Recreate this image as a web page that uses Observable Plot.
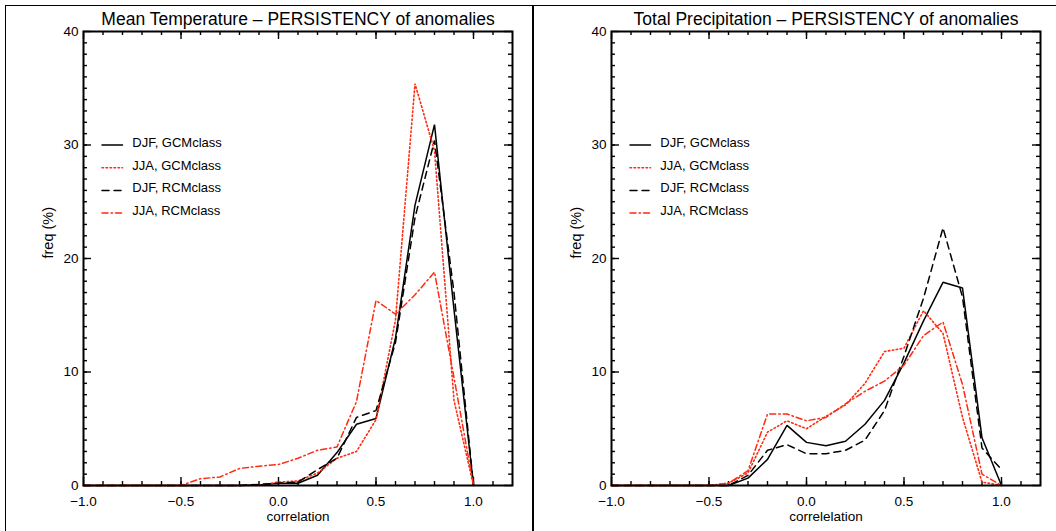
<!DOCTYPE html>
<html><head><meta charset="utf-8">
<script src="https://cdn.jsdelivr.net/npm/d3@7"></script>
<script src="https://cdn.jsdelivr.net/npm/@observablehq/plot@0.6"></script>
<style>
html,body{margin:0;padding:0;background:#fff;}
#wrap{position:relative;width:1056px;height:531px;overflow:hidden;background:#fff;}
.panel{position:absolute;top:0;}
.bline{position:absolute;background:#000;}
</style></head><body>
<div id="wrap"></div>
<script>
// ---- data ----
const correlation = [-1.0,-0.9,-0.8,-0.7,-0.6,-0.5,-0.4,-0.3,-0.2,-0.1,0.0,0.1,0.2,0.3,0.4,0.5,0.6,0.7,0.8,0.9,1.0];

const tempDJF_GCM = [0,0,0,0,0,0,0,0,0,0.05,0.2,0.2,0.9,2.9,5.4,5.9,13.0,24.7,31.8,15.5,0];
const tempJJA_GCM = [0,0,0,0,0,0,0,0,0,0.0,0.3,0.4,1.1,2.4,3.0,5.8,14.6,35.4,29.5,7.5,0];
const tempDJF_RCM = [0,0,0,0,0,0,0,0,0,0.1,0.2,0.3,1.4,2.4,6.0,6.6,12.6,23.6,30.4,17.0,0];
const tempJJA_RCM = [0,0,0,0,0,0,0.6,0.75,1.5,1.7,1.85,2.4,3.1,3.4,7.4,16.3,15.1,16.8,18.8,9.5,0];

const precDJF_GCM = [0,0,0,0,0,0,0,0.65,2.3,5.3,3.8,3.5,3.9,5.4,7.5,10.8,14.5,17.9,17.4,4.2,0];
const precJJA_GCM = [0,0,0,0,0,0,0.2,1.1,4.7,5.7,5.0,6.1,7.1,9.0,11.8,12.1,15.4,13.4,6.0,0.3,0];
const precDJF_RCM = [0,0,0,0,0,0,0,0.9,3.1,3.6,2.8,2.8,3.1,4.0,6.6,11.4,16.5,22.7,16.6,3.3,1.4];
const precJJA_RCM = [0,0,0,0,0,0,0.2,1.3,6.3,6.3,5.7,6.0,7.2,8.3,9.2,10.6,13.2,14.4,8.9,1.0,0];

const xTicks = [-1.0,-0.5,0.0,0.5,1.0];
const yTicks = [0,10,20,30,40];
const legendLabels = ["DJF, GCMclass","JJA, GCMclass","DJF, RCMclass","JJA, RCMclass"];
const titles = ["Mean Temperature – PERSISTENCY of anomalies","Total Precipitation – PERSISTENCY of anomalies"];
const xLabels = ["correlation","correlelation"];
const yLabel = "freq (%)";

// ---- layout / style ----
const W = 528, H = 531, mL = 83, mR = 16, mT = 31, mB = 46;
const FONT = "'Liberation Sans', Arial, sans-serif";
const RED = "#ff2a10";
const styles = [
  {stroke: "black", dash: null, sw: 1.5},
  {stroke: RED, dash: "1.5,2.5", sw: 1.6},
  {stroke: "black", dash: "7,5", sw: 1.5},
  {stroke: RED, dash: "6,3,1.5,3", sw: 1.5}
];

function panel(title, xlabel, seriesValues) {
  const xDomain = [-1, 1.2], yDomain = [0, 40];
  const innerW = W - mL - mR, innerH = H - mT - mB;
  const ux = px => px * (xDomain[1] - xDomain[0]) / innerW;
  const uy = px => px * (yDomain[1] - yDomain[0]) / innerH;
  const xMinor = d3.range(1, 22).map(i => -1 + i * 0.1).map(v => +v.toFixed(2));
  const yMinor = d3.range(1, 40);
  const marks = [];
  // ticks (inward, all four sides)
  const tk = (vals, len) => [
    Plot.ruleX(vals, {x: d => d, y1: yDomain[0], y2: yDomain[0] + uy(len), strokeWidth: 1.4}),
    Plot.ruleX(vals, {x: d => d, y1: yDomain[1], y2: yDomain[1] - uy(len), strokeWidth: 1.4})
  ];
  const tky = (vals, len) => [
    Plot.ruleY(vals, {y: d => d, x1: xDomain[0], x2: xDomain[0] + ux(len), strokeWidth: 1.4}),
    Plot.ruleY(vals, {y: d => d, x1: xDomain[1], x2: xDomain[1] - ux(len), strokeWidth: 1.4})
  ];
  marks.push(...tk(xMinor, 4), ...tk(xTicks, 8), ...tky(yMinor, 4), ...tky(yTicks, 8));
  // data lines
  seriesValues.forEach((vals, s) => {
    const rows = vals.map((v, i) => ({x: correlation[i], y: v}));
    marks.push(Plot.line(rows, {x: "x", y: "y", stroke: styles[s].stroke, strokeWidth: styles[s].sw,
      strokeDasharray: styles[s].dash, strokeLinejoin: "miter"}));
  });
  // legend
  const legX0 = -0.905, legX1 = -0.8, legTextX = -0.75, legY0 = 30.2, legStep = 2.0;
  legendLabels.forEach((lab, k) => {
    const yy = legY0 - k * legStep - 0.2;
    marks.push(Plot.line([{x: legX0, y: yy}, {x: legX1, y: yy}], {x: "x", y: "y",
      stroke: styles[k].stroke, strokeWidth: styles[k].sw, strokeDasharray: styles[k].dash}));
  });
  marks.push(Plot.text(legendLabels, {x: legTextX, y: (d, i) => legY0 - i * legStep, text: d => d,
    textAnchor: "start", lineAnchor: "middle", fontSize: 13, fill: "black"}));
  // axes
  marks.push(Plot.axisX({ticks: xTicks, tickSize: 0, tickPadding: 11, tickFormat: d3.format(".1f"), label: null, fontSize: 13.5}));
  marks.push(Plot.axisY({ticks: yTicks, tickSize: 0, tickPadding: 5, label: null, fontSize: 13.5}));
  marks.push(Plot.frame({strokeWidth: 2}));
  // title and axis labels
  marks.push(Plot.text([title], {frameAnchor: "top", lineAnchor: "middle", dy: -12, fontSize: 17.5, text: d => d}));
  marks.push(Plot.text([xlabel], {frameAnchor: "bottom", lineAnchor: "middle", dy: 31, fontSize: 13.5, text: d => d}));
  marks.push(Plot.text([yLabel], {frameAnchor: "left", lineAnchor: "middle", dx: -35, rotate: -90, fontSize: 14.5, text: d => d}));
  return Plot.plot({
    width: W, height: H, marginLeft: mL, marginRight: mR, marginTop: mT, marginBottom: mB,
    x: {domain: xDomain}, y: {domain: yDomain},
    style: {fontFamily: FONT, fontSize: "13px", background: "white", color: "black", overflow: "visible"},
    marks
  });
}

const wrap = document.getElementById("wrap");
const p1 = panel(titles[0], xLabels[0], [tempDJF_GCM, tempJJA_GCM, tempDJF_RCM, tempJJA_RCM]);
const p2 = panel(titles[1], xLabels[1], [precDJF_GCM, precJJA_GCM, precDJF_RCM, precJJA_RCM]);
p1.classList.add("panel"); p1.style.left = "0px";
p2.classList.add("panel"); p2.style.left = W + "px";
wrap.appendChild(p1); wrap.appendChild(p2);
// outer borders
function bl(l, t, w, h) { const d = document.createElement("div"); d.className = "bline";
  Object.assign(d.style, {left: l + "px", top: t + "px", width: w + "px", height: h + "px"}); wrap.appendChild(d); }
bl(5, 5, 1051, 1);
bl(5, 5, 1, 526);
bl(532, 5, 2, 526);
</script>
</body></html>
